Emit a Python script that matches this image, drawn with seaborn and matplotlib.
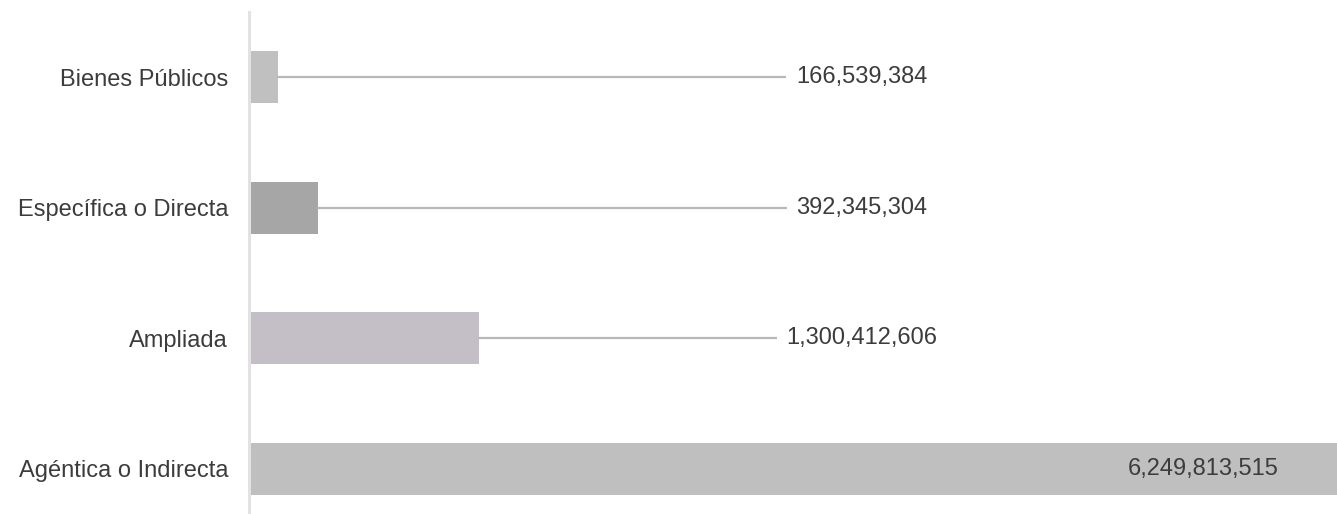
import seaborn as sns
import matplotlib.pyplot as plt
import pandas as pd

categorias = ['Bienes Públicos', 'Específica o Directa', 'Ampliada', 'Agéntica o Indirecta']
montos = [166539384, 392345304, 1300412606, 6249813515]
colores = ['#c0c0c0', '#a6a6a6', '#c4bdc9', '#bfbfbf']

df = pd.DataFrame({'categoria': categorias, 'monto': montos})

sns.set_style('white')
plt.rcParams['font.family'] = ['Liberation Sans', 'DejaVu Sans']

fig = plt.figure(figsize=(13.37, 5.14), dpi=100)
ax = fig.add_axes([249 / 1337, 0, 1 - 249 / 1337, 502 / 514])

sns.barplot(data=df, y='categoria', x='monto', hue='categoria', palette=colores,
            orient='h', width=0.4, legend=False, ax=ax, edgecolor='none')

tope = 0.985 * max(montos)
ax.set_xlim(0, tope)
ax.set_ylim(3 + 45 / 130, -0.5)

# etiquetas con linea guia
pos_etiqueta = 0.563 * tope
for i, v in enumerate(montos):
    texto = f'{v:,}'
    if v < pos_etiqueta:
        ax.plot([v, pos_etiqueta], [i, i], color='#b8b8b8', lw=1.6, zorder=1)
        ax.text(pos_etiqueta, i, texto, ha='center', va='center', fontsize=17,
                color='#3c3c3c', zorder=3,
                bbox=dict(boxstyle='square,pad=0.4', fc='white', ec='none'))
    else:
        ax.text(0.877 * tope, i, texto, ha='center', va='center',
                fontsize=17, color='#3c3c3c', zorder=3)

ax.set_xlabel('')
ax.set_ylabel('')
ax.set_xticks([])
ax.tick_params(axis='y', length=0, pad=15, labelsize=17, labelcolor='#3c3c3c')
for s in ['top', 'right', 'bottom']:
    ax.spines[s].set_visible(False)
ax.spines['left'].set_color('#e2e2e2')
ax.spines['left'].set_linewidth(2.2)

fig.savefig('out.png', dpi=100)
